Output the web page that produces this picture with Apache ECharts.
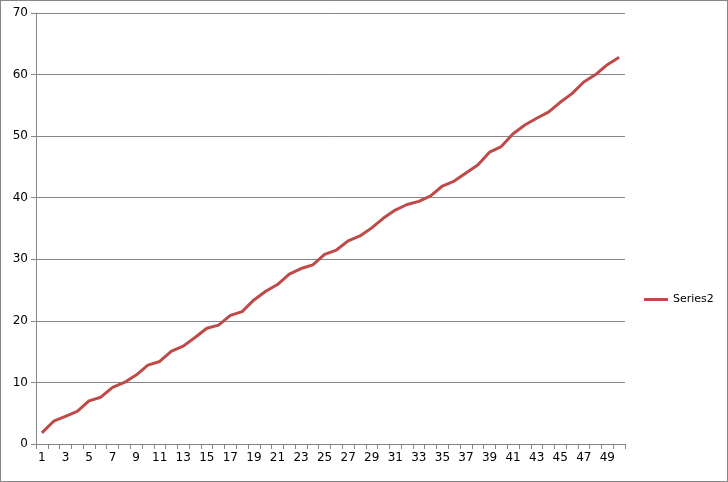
<!DOCTYPE html>
<html>
<head>
<meta charset="utf-8">
<script src="https://cdn.jsdelivr.net/npm/echarts@6/dist/echarts.min.js"></script>
<style>
html,body{margin:0;padding:0;background:#fff;}
#c{width:726px;height:480px;border:1px solid #868686;}
</style>
</head>
<body>
<div id="c"></div>
<script>
const categories = Array.from({length: 50}, (_, i) => String(i + 1));
const seriesName = "Series2";
const series2 = [1.8,3.7,4.5,5.3,7.0,7.6,9.2,10.0,11.2,12.8,
                 13.4,15.1,15.9,17.3,18.8,19.3,20.9,21.5,23.4,24.8,
                 25.9,27.6,28.5,29.1,30.8,31.5,33.0,33.8,35.1,36.7,
                 38.0,38.9,39.4,40.3,41.9,42.7,44.0,45.3,47.4,48.3,
                 50.4,51.8,52.9,53.9,55.5,56.9,58.8,60.0,61.6,62.8];
const yTicks = {min: 0, max: 70, interval: 10};

const chart = echarts.init(document.getElementById('c'), null, {renderer: 'canvas'});
chart.setOption({
  animation: false,
  backgroundColor: '#fff',
  grid: {left: 35, right: 102, top: 12, bottom: 37, containLabel: false},
  legend: {
    data: [seriesName],
    left: 638, top: 288,
    orient: 'vertical',
    icon: 'rect', itemWidth: 24, itemHeight: 3, itemGap: 6,
    textStyle: {fontFamily: 'DejaVu Sans', fontSize: 11, color: '#000'}
  },
  xAxis: {
    type: 'category',
    data: categories,
    boundaryGap: true,
    axisLine: {lineStyle: {color: '#868686', width: 1}},
    axisTick: {show: true, interval: 0, length: 5, inside: false, lineStyle: {color: '#868686'}},
    axisLabel: {interval: 1, color: '#000', fontFamily: 'DejaVu Sans', fontSize: 12, margin: 8},
    splitLine: {show: false}
  },
  yAxis: {
    type: 'value',
    min: yTicks.min, max: yTicks.max, interval: yTicks.interval,
    axisLine: {show: true, lineStyle: {color: '#868686', width: 1}},
    axisTick: {show: true, length: 5, lineStyle: {color: '#868686'}},
    axisLabel: {color: '#000', fontFamily: 'DejaVu Sans', fontSize: 12, margin: 8},
    splitLine: {show: true, lineStyle: {color: '#868686', width: 1}}
  },
  series: [{
    name: seriesName,
    type: 'line',
    data: series2,
    showSymbol: false,
    symbol: 'none',
    lineStyle: {color: '#BE4B48', width: 3},
    itemStyle: {color: '#BE4B48'}
  }]
});
</script>
</body>
</html>
